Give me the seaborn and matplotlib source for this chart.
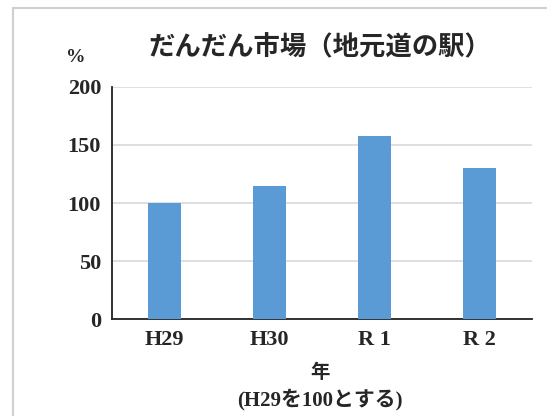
import numpy as np
import pandas as pd
import matplotlib
matplotlib.use('Agg')
import matplotlib.pyplot as plt
import seaborn as sns
from matplotlib.patches import Rectangle

# data
years = ['H29', 'H30', 'R1', 'R2']
tick_labels = ['H29', 'H30', 'R 1', 'R 2']
index_pct = [100, 115, 158, 130]

df = pd.DataFrame({'year': years, 'pct': index_pct})

sns.set_style('white')
plt.rcParams['font.family'] = ['Liberation Serif', 'Noto Sans CJK JP']
plt.rcParams['font.weight'] = 'bold'

fig = plt.figure(figsize=(5.47, 4.16), dpi=100)
ax = fig.add_axes([0.205, 0.233, 0.768, 0.558])

sns.barplot(data=df, x='year', y='pct', color='#5B9BD5', width=0.31,
            saturation=1, linewidth=0, ax=ax, zorder=3)

ax.set_ylim(0, 200)
ax.set_yticks([0, 50, 100, 150, 200])
ax.yaxis.grid(True, color='#D9D9D9', linewidth=1.2, zorder=0)
ax.set_xticks(range(len(years)))
ax.set_xticklabels(tick_labels)
ax.tick_params(axis='both', length=0, labelsize=16, pad=8)
for lab in ax.get_xticklabels() + ax.get_yticklabels():
    lab.set_fontweight('bold')

for s in ['top', 'right']:
    ax.spines[s].set_visible(False)
ax.spines['left'].set_color('#222222')
ax.spines['left'].set_linewidth(1.3)
ax.spines['bottom'].set_color('#222222')
ax.spines['bottom'].set_linewidth(1.3)

ax.set_xlabel('')
ax.set_ylabel('')

fig.text(0.585, 0.885, 'だんだん市場（地元道の駅）', ha='center', va='center',
         fontsize=19, fontweight='bold')
fig.text(0.138, 0.862, '%', ha='center', va='center', fontsize=14, fontweight='bold')
fig.text(0.585, 0.103, '年', ha='center', va='center', fontsize=14, fontweight='bold')
fig.text(0.585, 0.040, '(H29を100とする)', ha='center', va='center',
         fontsize=15, fontweight='bold')

fig.patches.append(Rectangle((0.024, -0.05), 1.0, 1.03, transform=fig.transFigure,
                             fill=False, edgecolor='#D0D0D0', linewidth=1.5))

fig.savefig('out.png', dpi=100)
